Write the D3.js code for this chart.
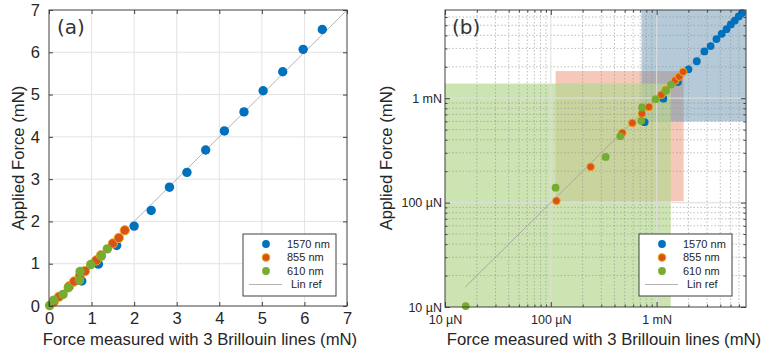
<!DOCTYPE html>
<html>
<head>
<meta charset="utf-8">
<script src="https://cdn.jsdelivr.net/npm/d3@7"></script>
<style>
  body { margin: 0; background: #fff; }
  svg { display: block; }
</style>
</head>
<body>
<svg id="chart" width="764" height="354"></svg>
<script>
//values, everything in mN

var seriesNames = ["1570 nm", "855 nm", "610 nm"];

var blueX = [0.77, 1.16, 1.59, 2.00, 2.40, 2.83, 3.24, 3.68, 4.12, 4.58, 5.03, 5.49, 5.97, 6.42];
var blueY = [0.59, 0.99, 1.43, 1.89, 2.26, 2.81, 3.16, 3.69, 4.14, 4.59, 5.09, 5.54, 6.07, 6.54];

var orangeX = [0.113, 0.238, 0.474, 0.59, 0.727, 0.847, 1.11, 1.22, 1.50, 1.64, 1.78];
var orangeY = [0.104, 0.220, 0.466, 0.58, 0.713, 0.826, 1.08, 1.20, 1.48, 1.61, 1.79];

var greenX = [0.0157, 0.111, 0.330, 0.454, 0.717, 0.73, 0.98, 1.23, 1.37];
var greenY = [0.0102, 0.139, 0.274, 0.433, 0.607, 0.815, 0.98, 1.18, 1.35];

// lin ref line ends
var refA = [0, 7];
var refB = [0.0155, 7];

// shaded ranges of panel (b): [xmin, xmax, ymin, ymax]
var rangeRed = [0.111, 1.8, 0.103, 1.82];
var rangeBlue = [0.72, 7, 0.6, 7];
var rangeGreen = [0.01, 1.36, 0.01, 1.38];

var linTicks = [0, 1, 2, 3, 4, 5, 6, 7];
var logTicks = [0.01, 0.1, 1];
var logTickLabels = ["10 µN", "100 µN", "1 mN"];
var logMinor = [0.02, 0.03, 0.04, 0.05, 0.06, 0.07, 0.08, 0.09,
                0.2, 0.3, 0.4, 0.5, 0.6, 0.7, 0.8, 0.9,
                2, 3, 4, 5, 6];

var xTitle = "Force measured with 3 Brillouin lines (mN)";
var yTitle = "Applied Force (mN)";

var font = "'Liberation Sans', Arial, Helvetica, sans-serif";
var colors = ["#0072BD", "#D95319", "#77AC30"];

var svg = d3.select("#chart");

function zipXY(xs, ys) {
    return xs.map(function(x, i) { return {x: x, y: ys[i]}; });
}
var series = [zipXY(blueX, blueY), zipXY(orangeX, orangeY), zipXY(greenX, greenY)];

//scales
var xa = d3.scaleLinear().domain([0, 7]).range([49, 347]);
var ya = d3.scaleLinear().domain([0, 7]).range([306, 10]);
var xb = d3.scaleLog().domain([0.01, 7]).range([445, 746]);
var yb = d3.scaleLog().domain([0.01, 7]).range([307, 10]);


//---------- PANEL A ----------
var pa = svg.append("g");

pa.append("g").selectAll("line").data(linTicks.slice(1, -1)).enter().append("line")
    .attr("x1", d => xa(d)).attr("x2", d => xa(d))
    .attr("y1", ya(0)).attr("y2", ya(7))
    .attr("stroke", "#e3e3e3");
pa.append("g").selectAll("line").data(linTicks.slice(1, -1)).enter().append("line")
    .attr("y1", d => ya(d)).attr("y2", d => ya(d))
    .attr("x1", xa(0)).attr("x2", xa(7))
    .attr("stroke", "#e3e3e3");

pa.append("line")
    .attr("x1", xa(refA[0])).attr("y1", ya(refA[0]))
    .attr("x2", xa(refA[1])).attr("y2", ya(refA[1]))
    .attr("stroke", "#b4b4b4").attr("stroke-width", 1);

drawPoints(pa, xa, ya, 4.7);

// axes, ticks inward
function styleAxis(g, size) {
    g.attr("font-family", font).attr("font-size", size).attr("color", "#262626");
    g.select(".domain").remove();
    g.selectAll(".tick line").attr("stroke", "#404040");
}
pa.append("g").attr("transform", "translate(0," + ya(0) + ")")
    .call(d3.axisBottom(xa).tickValues(linTicks).tickSize(-4).tickPadding(6).tickFormat(d3.format("d")))
    .call(styleAxis, 16.5);
pa.append("g").attr("transform", "translate(" + xa(0) + ",0)")
    .call(d3.axisLeft(ya).tickValues(linTicks).tickSize(-4).tickPadding(9).tickFormat(d3.format("d")))
    .call(styleAxis, 16.5);
pa.append("g").attr("transform", "translate(0," + ya(7) + ")")
    .call(d3.axisTop(xa).tickValues(linTicks).tickSize(-4).tickFormat(""))
    .call(styleAxis, 16.5);
pa.append("g").attr("transform", "translate(" + xa(7) + ",0)")
    .call(d3.axisRight(ya).tickValues(linTicks).tickSize(-4).tickFormat(""))
    .call(styleAxis, 16.5);

pa.append("rect")
    .attr("x", xa(0)).attr("y", ya(7))
    .attr("width", xa(7) - xa(0)).attr("height", ya(0) - ya(7))
    .attr("fill", "none").attr("stroke", "#404040");

pa.append("text").attr("x", 57).attr("y", 34)
    .attr("font-family", "'DejaVu Sans', sans-serif").attr("font-size", 20)
    .attr("fill", "#333").text("(a)");

pa.append("text").attr("x", 200).attr("y", 345).attr("text-anchor", "middle")
    .attr("font-family", font).attr("font-size", 16.7).attr("fill", "#262626").text(xTitle);
pa.append("text").attr("transform", "translate(24,158) rotate(-90)").attr("text-anchor", "middle")
    .attr("font-family", font).attr("font-size", 16.7).attr("fill", "#262626").text(yTitle);

drawLegend(pa, 243, 234);


//---------- PANEL B ----------
var pb = svg.append("g");

function addRange(r, fill, op) {
    pb.append("rect")
        .attr("x", xb(r[0])).attr("y", yb(r[3]))
        .attr("width", xb(r[1]) - xb(r[0])).attr("height", yb(r[2]) - yb(r[3]))
        .attr("fill", fill).attr("fill-opacity", op);
}
addRange(rangeRed, "#e6754f", 0.4);
addRange(rangeBlue, "#5b8cab", 0.46);
addRange(rangeGreen, "#b6d791", 0.7);

// grid on top of the shading
pb.append("g").selectAll("line").data(logMinor).enter().append("line")
    .attr("x1", d => xb(d)).attr("x2", d => xb(d))
    .attr("y1", yb(0.01)).attr("y2", yb(7))
    .attr("stroke", "#8c8c8c").attr("stroke-opacity", 0.55).attr("stroke-dasharray", "1.5,2");
pb.append("g").selectAll("line").data(logMinor).enter().append("line")
    .attr("y1", d => yb(d)).attr("y2", d => yb(d))
    .attr("x1", xb(0.01)).attr("x2", xb(7))
    .attr("stroke", "#8c8c8c").attr("stroke-opacity", 0.55).attr("stroke-dasharray", "1.5,2");
pb.append("g").selectAll("line").data(logTicks.slice(1)).enter().append("line")
    .attr("x1", d => xb(d)).attr("x2", d => xb(d))
    .attr("y1", yb(0.01)).attr("y2", yb(7))
    .attr("stroke", "#dedede").attr("stroke-opacity", 0.85).attr("stroke-width", 1.2);
pb.append("g").selectAll("line").data(logTicks.slice(1)).enter().append("line")
    .attr("y1", d => yb(d)).attr("y2", d => yb(d))
    .attr("x1", xb(0.01)).attr("x2", xb(7))
    .attr("stroke", "#dedede").attr("stroke-opacity", 0.85).attr("stroke-width", 1.2);

pb.append("line")
    .attr("x1", xb(refB[0])).attr("y1", yb(refB[0]))
    .attr("x2", xb(refB[1])).attr("y2", yb(refB[1]))
    .attr("stroke", "#a8a8a8").attr("stroke-width", 1);

drawPoints(pb, xb, yb, 3.9);

function logAxis(axisFn, scale, vals, size, fmt) {
    return axisFn(scale).tickValues(vals).tickSize(-size).tickFormat(fmt);
}
var labelOf = d => logTickLabels[logTicks.indexOf(d)];
var pos = [["translate(0," + yb(0.01) + ")", d3.axisBottom, xb, labelOf, 8],
           ["translate(" + xb(0.01) + ",0)", d3.axisLeft, yb, labelOf, 3],
           ["translate(0," + yb(7) + ")", d3.axisTop, xb, "", 0],
           ["translate(" + xb(7) + ",0)", d3.axisRight, yb, "", 0]];
pos.forEach(function(p) {
    pb.append("g").attr("transform", p[0])
        .call(logAxis(p[1], p[2], logTicks, 5, p[3]).tickPadding(p[4]))
        .call(styleAxis, 12.5);
    pb.append("g").attr("transform", p[0])
        .call(logAxis(p[1], p[2], logMinor, 2.5, ""))
        .call(styleAxis, 12.5);
});

pb.append("rect")
    .attr("x", xb(0.01)).attr("y", yb(7))
    .attr("width", xb(7) - xb(0.01)).attr("height", yb(0.01) - yb(7))
    .attr("fill", "none").attr("stroke", "#404040");

pb.append("text").attr("x", 452).attr("y", 34)
    .attr("font-family", "'DejaVu Sans', sans-serif").attr("font-size", 20)
    .attr("fill", "#333").text("(b)");

pb.append("text").attr("x", 604).attr("y", 345).attr("text-anchor", "middle")
    .attr("font-family", font).attr("font-size", 16.7).attr("fill", "#262626").text(xTitle);
pb.append("text").attr("transform", "translate(392,158) rotate(-90)").attr("text-anchor", "middle")
    .attr("font-family", font).attr("font-size", 16.7).attr("fill", "#262626").text(yTitle);

drawLegend(pb, 639, 234);


//---------- helpers ----------
function drawPoints(g, sx, sy, r) {
    series.forEach(function(pts, i) {
        g.append("g").selectAll("circle").data(pts).enter().append("circle")
            .attr("cx", d => sx(d.x)).attr("cy", d => sy(d.y)).attr("r", r)
            .attr("fill", colors[i])
            .attr("stroke", i == 1 ? "#EDB120" : "none")
            .attr("stroke-width", 0.9);
    });
}

function drawLegend(g, x0, y0) {
    var lg = g.append("g").attr("transform", "translate(" + x0 + "," + y0 + ")");
    lg.append("rect").attr("width", 93).attr("height", 62)
        .attr("fill", "#fff").attr("stroke", "#404040");
    seriesNames.forEach(function(name, i) {
        var y = 10 + i * 13.5;
        lg.append("circle").attr("cx", 23).attr("cy", y).attr("r", 3.9)
            .attr("fill", colors[i])
            .attr("stroke", i == 1 ? "#EDB120" : "none").attr("stroke-width", 0.9);
        lg.append("text").attr("x", 44).attr("y", y).attr("dy", "0.35em")
            .attr("font-family", font).attr("font-size", 11).attr("fill", "#262626").text(name);
    });
    var yl = 10 + 3 * 13.5;
    lg.append("line").attr("x1", 6).attr("x2", 39).attr("y1", yl).attr("y2", yl)
        .attr("stroke", "#b4b4b4");
    lg.append("text").attr("x", 48).attr("y", yl).attr("dy", "0.35em")
        .attr("font-family", font).attr("font-size", 11).attr("fill", "#262626").text("Lin ref");
}
</script>
</body>
</html>
